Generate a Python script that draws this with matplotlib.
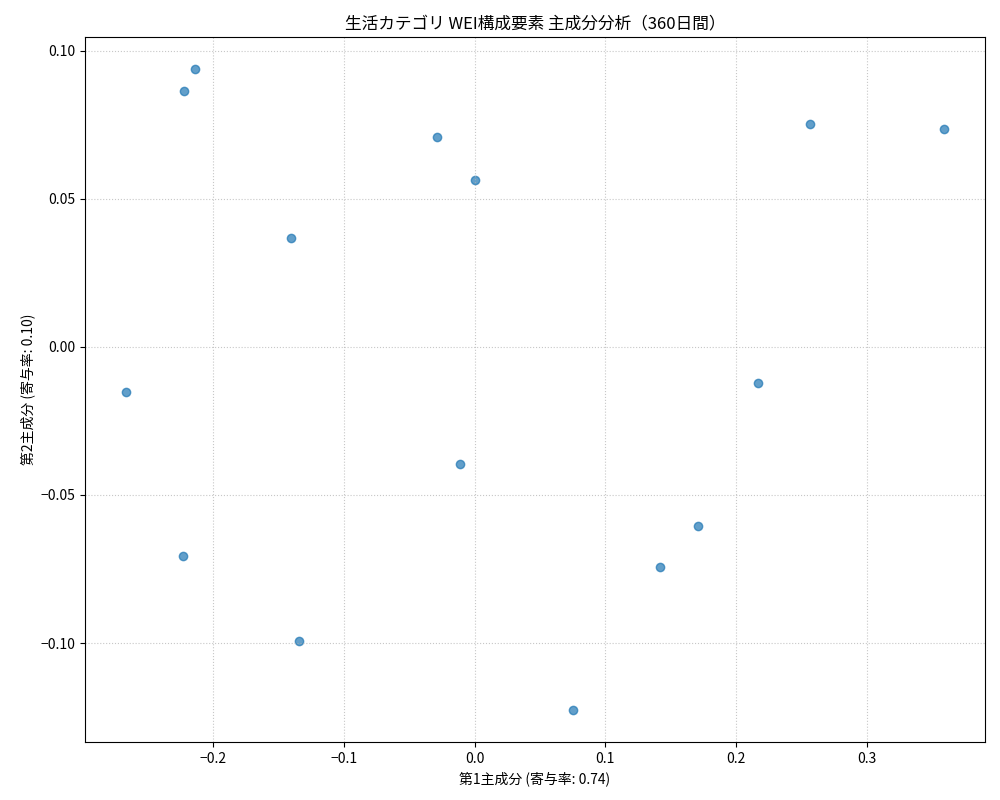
import matplotlib
matplotlib.use("Agg")
import matplotlib.pyplot as plt
import numpy as np

plt.rcParams['font.family'] = ['Noto Sans CJK JP', 'DejaVu Sans']

# 主成分スコア
pc1 = [-0.214, -0.2225, -0.029, 0.000, 0.257, 0.3593, -0.1407, -0.2668,
       0.2171, -0.0115, 0.1713, 0.1422, -0.2232, -0.1346, 0.0757]
pc2 = [0.0939, 0.0865, 0.0709, 0.0564, 0.0753, 0.0736, 0.0368, -0.0152,
       -0.0122, -0.0395, -0.0605, -0.0743, -0.0706, -0.0993, -0.1226]
ratio = [0.74, 0.10]

fig, ax = plt.subplots(figsize=(10, 8))
ax.scatter(pc1, pc2, alpha=0.7)
ax.set_title("生活カテゴリ WEI構成要素 主成分分析（360日間）")
ax.set_xlabel(f"第1主成分 (寄与率: {ratio[0]:.2f})")
ax.set_ylabel(f"第2主成分 (寄与率: {ratio[1]:.2f})")
ax.grid(True, linestyle=':', alpha=0.7)

# tight_layout 相当の余白を固定
plt.subplots_adjust(left=0.085, right=0.985, top=0.954, bottom=0.0725)
plt.savefig("out.png", dpi=100)
